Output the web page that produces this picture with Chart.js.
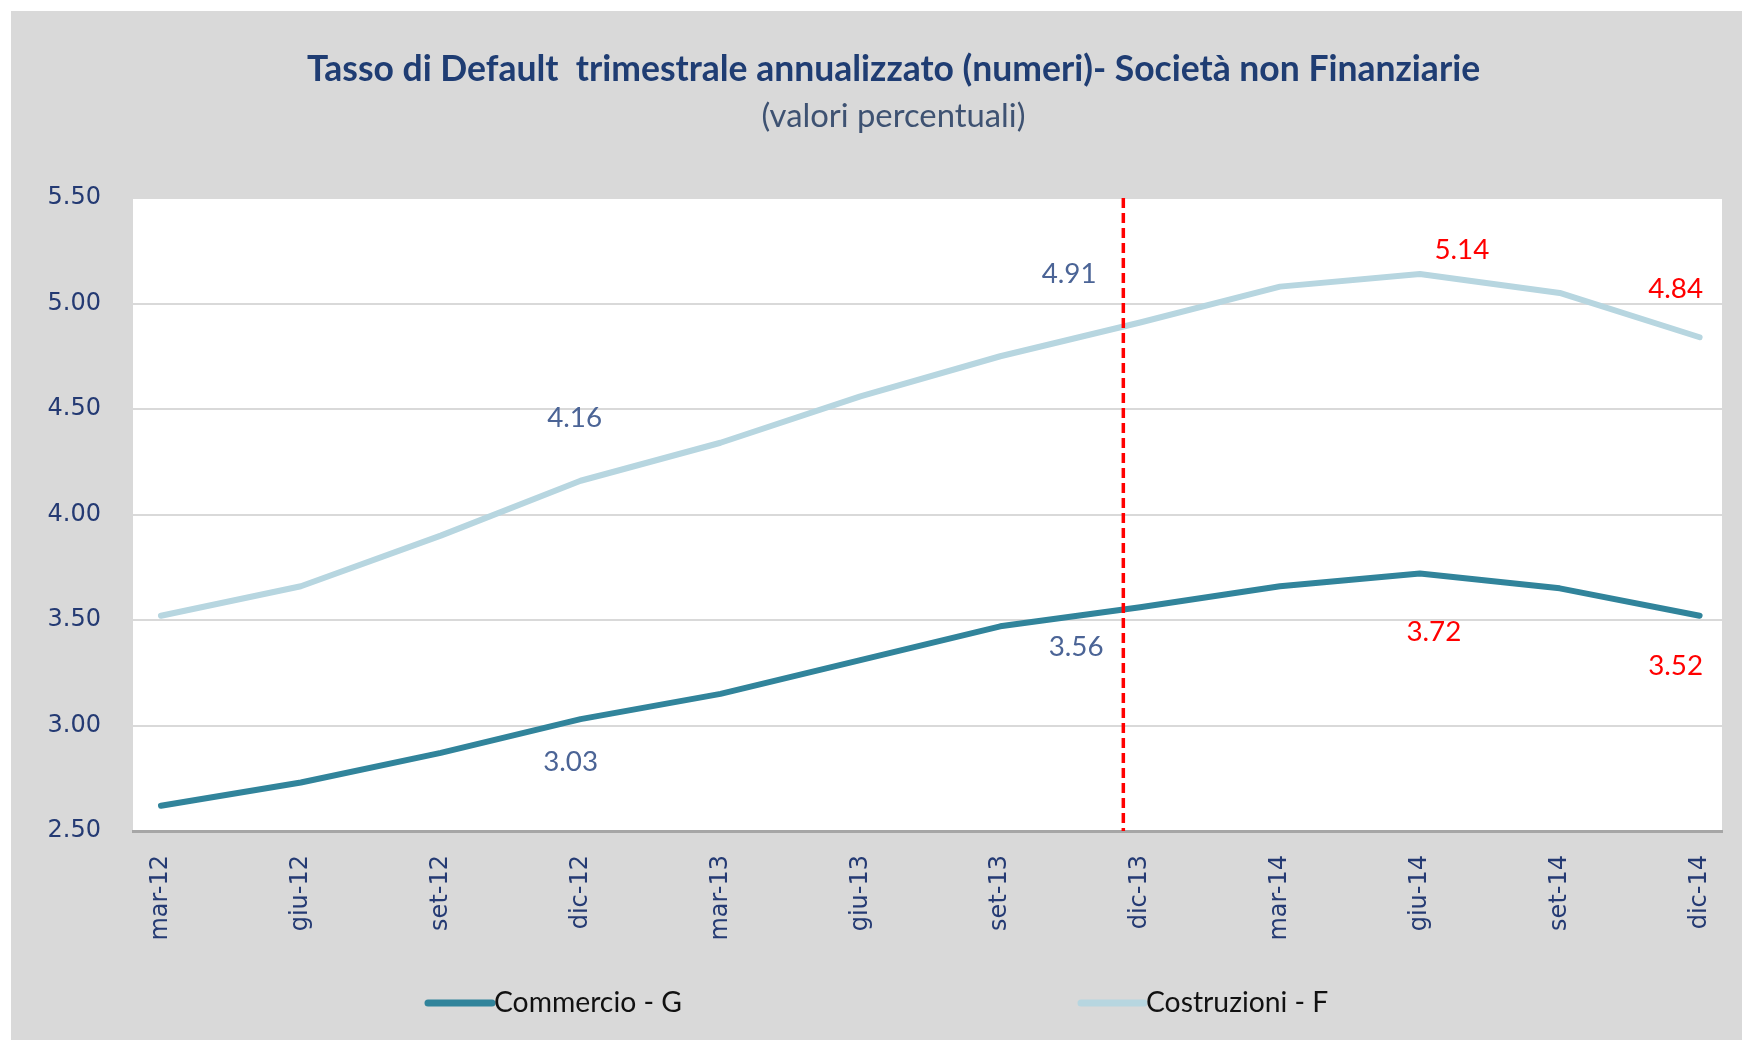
<!DOCTYPE html>
<html>
<head>
<meta charset="utf-8">
<script src="https://cdn.jsdelivr.net/npm/chart.js@4.4.1/dist/chart.umd.min.js"></script>
<style>
  html, body { margin: 0; background: #fff; overflow: hidden; }
  #wrap { position: absolute; left: 11px; top: 11px; width: 1732px; height: 1029px; background: #d9d9d9; }
</style>
</head>
<body>
<div id="wrap"><canvas id="chart"></canvas></div>
<script>
const labels = ['mar-12', 'giu-12', 'set-12', 'dic-12', 'mar-13', 'giu-13', 'set-13', 'dic-13', 'mar-14', 'giu-14', 'set-14', 'dic-14'];
const commercio = [2.62, 2.73, 2.87, 3.03, 3.15, 3.31, 3.47, 3.56, 3.66, 3.72, 3.65, 3.52];
const costruzioni = [3.52, 3.66, 3.90, 4.16, 4.34, 4.56, 4.75, 4.91, 5.08, 5.14, 5.05, 4.84];
const seriesNames = ['Commercio - G', 'Costruzioni - F'];
const yMin = 2.5, yMax = 5.5, yStep = 0.5;
const cutoff = 6.88; // dashed red line between set-13 and dic-13
const titleText = 'Tasso di Default  trimestrale annualizzato (numeri)- Società non Finanziarie';
const subtitleText = '(valori percentuali)';

// which points get a value label: series, point index, offset x/y, colour
const callouts = [
  [1, 3, -6, -63, '#4b6496'],
  [0, 3, -10, 43, '#4b6496'],
  [1, 7, -71, -48, '#4b6496'],
  [0, 7, -64, 40, '#4b6496'],
  [1, 9, 42, -24, '#ff0000'],
  [0, 9, 14, 58, '#ff0000'],
  [1, 11, -24, -48, '#ff0000'],
  [0, 11, -24, 50, '#ff0000']
];

function fitFont(text, weight, family, width) {
  const c = document.createElement('canvas').getContext('2d');
  c.font = weight + ' 100px ' + family;
  return Math.round(1000 * width / c.measureText(text).width) / 10;
}

const titleSize = fitFont(titleText, 'bold', 'Lato', 1174);
const subSize = fitFont(subtitleText, 'normal', 'Lato', 264);
const legendSize = fitFont(seriesNames[0], 'normal', 'Lato', 188);
const calloutSize = fitFont('4.16', 'normal', 'Lato', 55);

const titleMid = 59, subMid = 105, plotTop = 187;
const titleBottom = titleMid + titleSize * 0.6;

const plotBg = {
  id: 'plotBg',
  beforeDraw(chart) {
    const { ctx, chartArea: a } = chart;
    ctx.save();
    ctx.fillStyle = '#ffffff';
    ctx.fillRect(a.left, a.top, a.width, a.height);
    ctx.restore();
  }
};

const marks = {
  id: 'marks',
  afterDatasetsDraw(chart) {
    const { ctx, chartArea: a } = chart;
    const x = chart.scales.x.getPixelForValue(cutoff);
    ctx.save();
    ctx.strokeStyle = '#ff0000';
    ctx.lineWidth = 3.5;
    ctx.setLineDash([10, 5]);
    ctx.beginPath();
    ctx.moveTo(x, a.top);
    ctx.lineTo(x, a.bottom);
    ctx.stroke();
    ctx.setLineDash([]);

    ctx.font = calloutSize + 'px Lato';
    ctx.textAlign = 'center';
    ctx.textBaseline = 'middle';
    callouts.forEach(([s, i, dx, dy, color]) => {
      const pt = chart.getDatasetMeta(s).data[i];
      const v = chart.data.datasets[s].data[i].y;
      ctx.fillStyle = color;
      ctx.fillText(v.toFixed(2), pt.x + dx, pt.y + dy);
    });
    ctx.restore();
  },
  afterDraw(chart) {
    const ctx = chart.ctx;
    const items = [[417, 481], [1070, 1133]];
    ctx.save();
    ctx.font = legendSize + 'px Lato';
    ctx.textBaseline = 'middle';
    ctx.lineCap = 'round';
    chart.data.datasets.forEach((ds, k) => {
      const [x0, x1] = items[k];
      ctx.strokeStyle = ds.borderColor;
      ctx.lineWidth = 7;
      ctx.beginPath();
      ctx.moveTo(x0, 992);
      ctx.lineTo(x1, 992);
      ctx.stroke();
      ctx.fillStyle = '#111111';
      ctx.fillText(ds.label, x1 + 2, 992);
    });
    ctx.restore();
  }
};

const toPoints = arr => arr.map((v, i) => ({ x: i, y: v }));
const tickColor = '#243a73';
const tickFont = { family: 'DejaVu Sans', size: 24 };

new Chart(document.getElementById('chart'), {
  type: 'line',
  data: {
    datasets: [
      {
        label: seriesNames[0],
        data: toPoints(commercio),
        borderColor: '#31849b',
        borderWidth: 6,
        pointRadius: 0,
        tension: 0,
        borderCapStyle: 'round',
        borderJoinStyle: 'round'
      },
      {
        label: seriesNames[1],
        data: toPoints(costruzioni),
        borderColor: '#b7d6e0',
        borderWidth: 6,
        pointRadius: 0,
        tension: 0,
        borderCapStyle: 'round',
        borderJoinStyle: 'round'
      }
    ]
  },
  options: {
    responsive: true,
    maintainAspectRatio: false,
    animation: false,
    layout: { padding: { left: 33, right: 0, top: 0, bottom: 97 } },
    plugins: {
      legend: { display: false },
      tooltip: { enabled: false },
      title: {
        display: true,
        text: titleText,
        color: '#1f3d73',
        font: { family: 'Lato', weight: 'bold', size: titleSize, lineHeight: 1.2 },
        padding: { top: titleMid - titleSize * 0.6, bottom: 0 }
      },
      subtitle: {
        display: true,
        text: subtitleText,
        color: '#3e5272',
        font: { family: 'Lato', size: subSize, lineHeight: 1.2 },
        padding: { top: subMid - subSize * 0.6 - titleBottom, bottom: plotTop - subMid - subSize * 0.6 }
      }
    },
    scales: {
      x: {
        type: 'linear',
        min: -0.2,
        max: 11.16,
        afterBuildTicks: s => { s.ticks = labels.map((_, i) => ({ value: i })); },
        afterFit: s => {
          s.height = 112;
          s.paddingLeft = 0;
          s.paddingRight = 0;
        },
        grid: { display: false, drawTicks: false },
        border: { display: true, color: '#a6a6a6', width: 3 },
        ticks: {
          autoSkip: false,
          minRotation: 90,
          maxRotation: 90,
          padding: 24,
          color: tickColor,
          font: tickFont,
          callback: (v, i) => labels[i]
        }
      },
      y: {
        min: yMin,
        max: yMax,
        afterFit: s => { s.width = 89; },
        grid: { color: '#d9d9d9', lineWidth: 2, drawTicks: false },
        border: { display: false },
        ticks: {
          stepSize: yStep,
          padding: 32,
          color: tickColor,
          font: tickFont,
          callback: v => v.toFixed(2)
        }
      },
      // empty strip right of the plot, keeps the grey margin there
      edge: {
        type: 'linear',
        position: 'right',
        afterFit: s => { s.width = 21; },
        grid: { display: false, drawTicks: false },
        border: { display: false },
        ticks: { display: false }
      }
    }
  },
  plugins: [plotBg, marks]
});
</script>
</body>
</html>
